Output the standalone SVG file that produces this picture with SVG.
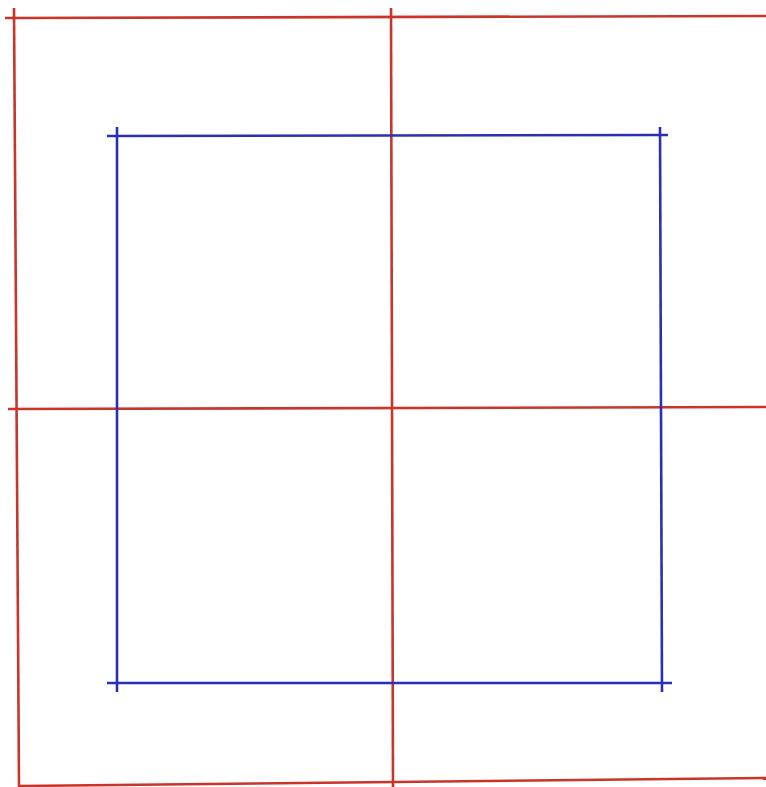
<svg xmlns="http://www.w3.org/2000/svg" width="766" height="787" viewBox="0 0 766 787">
<style>
.red{stroke:#c9352a;stroke-width:2.6;fill:none;stroke-linecap:butt}
.blue{stroke:#2a2fb5;stroke-width:2.6;fill:none}
</style>
<rect width="766" height="787" fill="#ffffff"/>
<g id="connectors">
<line class="red" x1="5" y1="18" x2="766" y2="16"/>
<line class="red" x1="8" y1="409" x2="766" y2="407"/>
<line class="red" x1="19" y1="786" x2="766" y2="778"/>
<line class="red" x1="14" y1="8" x2="19" y2="787"/>
<line class="red" x1="391" y1="8" x2="393" y2="787"/>
<line class="blue" x1="107" y1="136" x2="668" y2="135"/>
<line class="blue" x1="107" y1="683" x2="672" y2="683"/>
<line class="blue" x1="117" y1="127" x2="117" y2="692"/>
<line class="blue" x1="660" y1="127" x2="662" y2="692"/>
</g>
</svg>
